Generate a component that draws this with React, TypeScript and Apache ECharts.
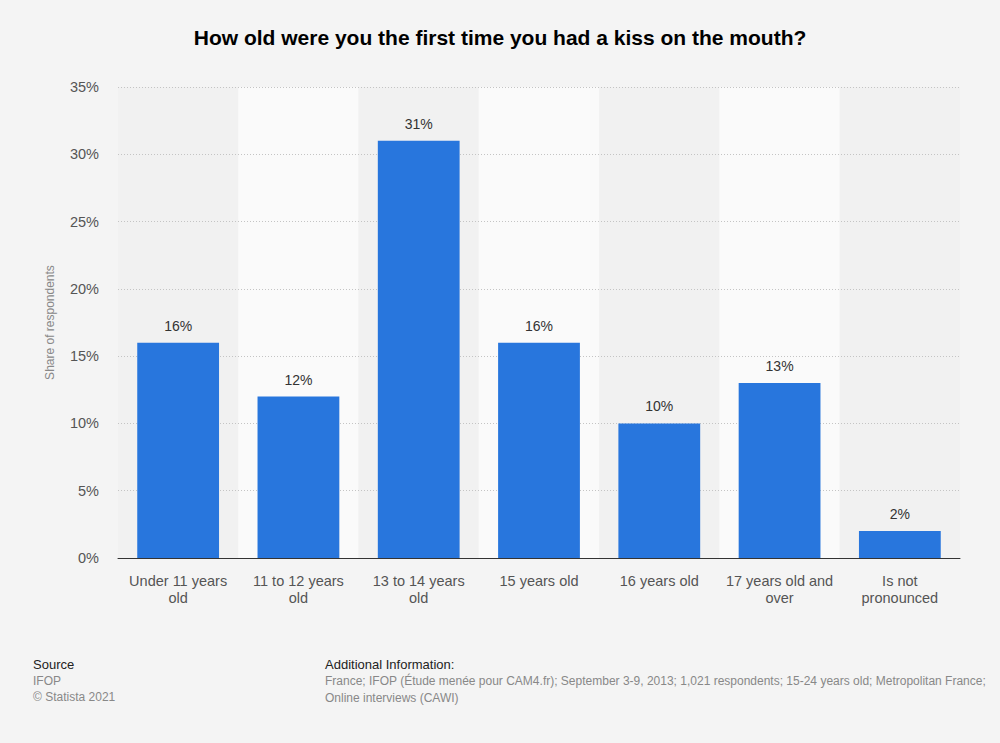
import React, { useEffect, useRef } from "react";
import * as echarts from "echarts";

const categories = [
  "Under 11 years\nold",
  "11 to 12 years\nold",
  "13 to 14 years\nold",
  "15 years old",
  "16 years old",
  "17 years old and\nover",
  "Is not\npronounced",
];
const values = [16, 12, 31, 16, 10, 13, 2];
const yTicks = { min: 0, max: 35, interval: 5 };
const title = "How old were you the first time you had a kiss on the mouth?";
const yAxisName = "Share of respondents";
const sourceLines = ["Source", "IFOP", "© Statista 2021"];
const infoTitle = "Additional Information:";
const infoLines = [
  "France; IFOP (Étude menée pour CAM4.fr); September 3-9, 2013; 1,021 respondents; 15-24 years old; Metropolitan France;",
  "Online interviews (CAWI)",
];

const FONT = "'Liberation Sans', Arial, sans-serif";

export default function App() {
  const ref = useRef<HTMLDivElement>(null);
  useEffect(() => {
    document.body.style.margin = "0";
    const chart = echarts.init(ref.current!, null, { renderer: "svg" });
    chart.setOption({
      animation: false,
      backgroundColor: "#f4f4f4",
      textStyle: { fontFamily: FONT },
      title: {
        text: title,
        left: "center",
        top: 22,
        textStyle: { fontFamily: FONT, fontSize: 21, fontWeight: "bold", color: "#000" },
      },
      grid: { left: 118, right: 40, top: 87, bottom: 185 },
      xAxis: {
        type: "category",
        data: categories,
        z: 0,
        axisTick: { show: false },
        axisLine: { lineStyle: { color: "#333", width: 1 } },
        axisLabel: { color: "#555", fontSize: 14.5, lineHeight: 17, margin: 14, interval: 0, fontFamily: FONT },
        splitArea: { show: true, areaStyle: { color: ["#f1f1f1", "#fafafa"] } },
      },
      yAxis: {
        type: "value",
        z: 2,
        min: yTicks.min,
        max: yTicks.max,
        interval: yTicks.interval,
        name: yAxisName,
        nameLocation: "middle",
        nameGap: 62,
        nameTextStyle: { color: "#888", fontSize: 12, fontFamily: FONT },
        axisLabel: { formatter: "{value}%", color: "#555", fontSize: 14.5, margin: 19, fontFamily: FONT },
        axisLine: { show: false },
        axisTick: { show: false },
        splitLine: { showMinLine: false, lineStyle: { color: "#c4c4c4", type: [1, 2], width: 1 } },
      },
      series: [
        {
          type: "bar",
          data: values,
          barWidth: "68%",
          z: 3,
          itemStyle: { color: "#2876dd" },
          label: {
            show: true,
            position: "top",
            distance: 10,
            formatter: "{c}%",
            color: "#333",
            fontSize: 14,
            fontFamily: FONT,
          },
        },
      ],
      graphic: [
        ...sourceLines.map((t, i) => ({
          type: "text",
          left: 33,
          top: 658 + i * 16.5,
          style: {
            text: t,
            fontSize: i === 0 ? 13 : 12,
            fill: i === 0 ? "#222" : "#888",
            fontFamily: FONT,
          },
        })),
        {
          type: "text",
          left: 325,
          top: 658,
          style: { text: infoTitle, fontSize: 13, fill: "#222", fontFamily: FONT },
        },
        ...infoLines.map((t, i) => ({
          type: "text",
          x: 325,
          y: 675 + i * 16.5,
          style: { text: t, fontSize: 12, fill: "#888", fontFamily: FONT },
        })),
      ],
    });
    return () => chart.dispose();
  }, []);
  return <div ref={ref} style={{ width: 1000, height: 743 }} />;
}
